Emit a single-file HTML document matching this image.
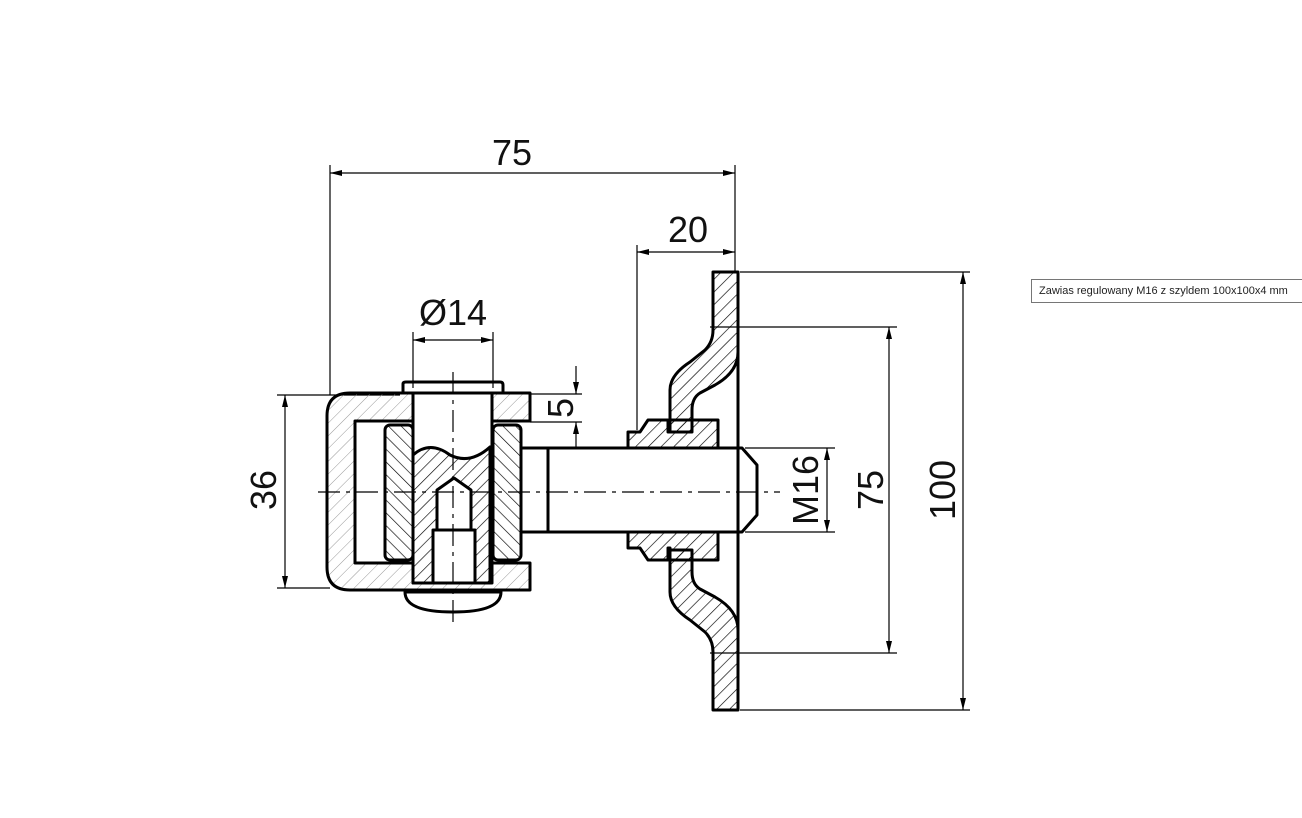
<!DOCTYPE html>
<html><head><meta charset="utf-8"><style>
html,body{margin:0;padding:0;background:#fff;width:1302px;height:818px;overflow:hidden}
.tt{position:absolute;left:1031px;top:279px;height:22px;border:1px solid #767676;background:#fff;font:11px "Liberation Sans",sans-serif;color:#222;line-height:22px;padding:0 0 0 7px;white-space:nowrap;width:270px;overflow:hidden}
</style></head><body>
<svg width="1302" height="818" style="position:absolute;left:0;top:0" font-family="Liberation Sans, sans-serif">
<defs>
<pattern id="h" width="9" height="9" patternUnits="userSpaceOnUse" patternTransform="rotate(45)"><line x1="0" y1="0" x2="0" y2="9" stroke="#000" stroke-width="1.3"/></pattern>
<pattern id="h2" width="9" height="9" patternUnits="userSpaceOnUse" patternTransform="rotate(-45)"><line x1="0" y1="0" x2="0" y2="9" stroke="#000" stroke-width="1.3"/></pattern>
<pattern id="hl" width="9" height="9" patternUnits="userSpaceOnUse" patternTransform="rotate(45)"><line x1="0" y1="0" x2="0" y2="9" stroke="#999" stroke-width="1"/></pattern>
<marker id="a" markerWidth="12" markerHeight="6" refX="12" refY="3" orient="auto-start-reverse" markerUnits="userSpaceOnUse"><path d="M0,0 L12,3 L0,6z" fill="#000"/></marker>
</defs>
<g stroke="#000" stroke-width="1.2" fill="none">
<path d="M330,165V395 M735,165V272 M637,245V430 M413,332V388 M493,332V388 M277,395H400 M277,588H330 M530,394H582 M530,422H582 M745,448H835 M745,532H835 M710,327H897 M710,653H897 M740,272H970 M740,710H970"/>
<line x1="330" y1="173" x2="735" y2="173" marker-start="url(#a)" marker-end="url(#a)"/>
<line x1="637" y1="252" x2="735" y2="252" marker-start="url(#a)" marker-end="url(#a)"/>
<line x1="413" y1="340" x2="493" y2="340" marker-start="url(#a)" marker-end="url(#a)"/>
<line x1="285" y1="395" x2="285" y2="588" marker-start="url(#a)" marker-end="url(#a)"/>
<line x1="576" y1="366" x2="576" y2="394" marker-end="url(#a)"/>
<line x1="576" y1="448" x2="576" y2="422" marker-end="url(#a)"/>
<line x1="827" y1="448" x2="827" y2="532" marker-start="url(#a)" marker-end="url(#a)"/>
<line x1="889" y1="327" x2="889" y2="653" marker-start="url(#a)" marker-end="url(#a)"/>
<line x1="963" y1="272" x2="963" y2="710" marker-start="url(#a)" marker-end="url(#a)"/>
</g>
<g stroke="#000" stroke-width="3" fill="none" stroke-linejoin="round">
<path d="M530,393H350Q327,393 327,416V567Q327,590 350,590H530V563H355V421H530Z" fill="url(#hl)"/>
<rect x="385" y="425" width="28" height="135" rx="5" fill="url(#h2)"/>
<rect x="493" y="425" width="28" height="135" rx="5" fill="url(#h2)"/>
<path d="M403,393V384Q403,382 406,382H500Q503,382 503,385V393"/>
<path d="M413,393V583H492V393Z" fill="#fff"/>
<path d="M413,455Q430,440 450,455Q470,465 490,447V583H413Z" fill="url(#h)"/>
<path d="M433,583V530H475V583Z M437,530V490L454,478L471,490V530Z" fill="#fff"/>
<path d="M405,592Q405,612 453,612Q501,612 501,592Z" fill="#fff"/>
<rect x="521" y="448" width="27" height="84" fill="#fff"/>
<path d="M548,448H742L757,465V515L742,532H548Z" fill="#fff"/>
<!-- plate: wall line -->
<line x1="738" y1="272" x2="738" y2="710"/>
<path d="M713,272H738V352Q738,372 715,385L700,393Q692,398 692,410V432H670V390Q670,375 690,362L705,350Q713,342 713,330Z" fill="url(#h)"/>
<path d="M713,710H738V630Q738,610 715,597L700,589Q692,584 692,572V550H670V592Q670,607 690,620L705,632Q713,640 713,652Z" fill="url(#h)"/>
<!-- nut / washer -->
<path d="M628,432H640L648,420H668V432H670V420H718V448H628Z" fill="url(#h)"/>
<path d="M628,532H718V560H670V548H668V560H648L640,548H628Z" fill="url(#h)"/>
</g>
<g stroke="#000" stroke-width="1.2" stroke-dasharray="22,6,4,6">
<line x1="318" y1="492" x2="780" y2="492"/>
<line x1="453" y1="372" x2="453" y2="622"/>
</g>
<g font-size="36" fill="#111" text-anchor="middle">
<text x="512" y="165">75</text>
<text x="688" y="242">20</text>
<text x="453" y="325">Ø14</text>
<text transform="translate(276,490) rotate(-90)">36</text>
<text transform="translate(573,408) rotate(-90)">5</text>
<text transform="translate(818,490) rotate(-90)">M16</text>
<text transform="translate(883,490) rotate(-90)">75</text>
<text transform="translate(955,490) rotate(-90)">100</text>
</g>
</svg>
<div class="tt">Zawias regulowany M16 z szyldem 100x100x4 mm</div>
</body></html>
